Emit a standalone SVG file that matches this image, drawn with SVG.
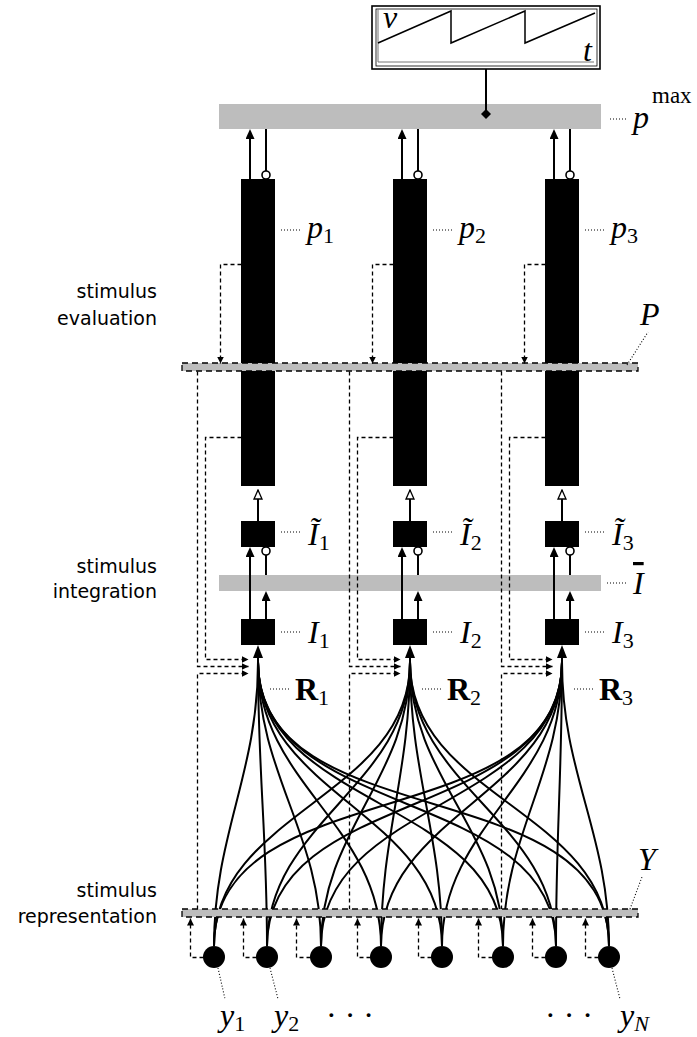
<svg xmlns="http://www.w3.org/2000/svg" width="697" height="1037" viewBox="0 0 697 1037">
<style>
.bar{fill:#bdbdbd}
.dbar{fill:#bdbdbd;stroke:#000;stroke-width:1.3;stroke-dasharray:6 4}
.blk{fill:#000}
.ln{stroke:#000;stroke-width:2;fill:none}
.cv{stroke:#000;stroke-width:2;fill:none}
.dash{stroke:#000;stroke-width:1.3;stroke-dasharray:4 3;fill:none}
.dot{stroke:#000;stroke-width:1.1;stroke-dasharray:1 2;fill:none}
.circ{fill:#fff;stroke:#000;stroke-width:1.6}
.m{font-family:"Liberation Serif",serif;font-size:32px}
.it{font-style:italic}
.bf{font-weight:bold}
.sub{font-size:22px;font-style:normal;font-weight:normal}
.lab{font-family:"DejaVu Sans",sans-serif;font-size:19px;text-anchor:end}
</style>
<defs>
<marker id="ah" viewBox="0 0 10 9" refX="7" refY="4.5" markerWidth="10" markerHeight="9" markerUnits="userSpaceOnUse" orient="auto"><path d="M0,0 L10,4.5 L0,9 z"/></marker>
<marker id="ahb" viewBox="0 0 13 10" refX="10" refY="5" markerWidth="13" markerHeight="10" markerUnits="userSpaceOnUse" orient="auto"><path d="M0,0 L13,5 L0,10 z"/></marker>
<marker id="aho" viewBox="-1 -1 11 10" refX="9" refY="4" markerWidth="11" markerHeight="10" markerUnits="userSpaceOnUse" orient="auto"><path d="M0,0 L9,4 L0,8 z" fill="#fff" stroke="#000" stroke-width="1.3"/></marker>
<marker id="ahd" viewBox="0 0 7 7" refX="7" refY="3.5" markerWidth="7" markerHeight="7" markerUnits="userSpaceOnUse" orient="auto"><path d="M0,0 L7,3.5 L0,7 z"/></marker>
</defs>

<g id="oscillator">
<rect x="372" y="6" width="228" height="63" fill="#fff" stroke="#000" stroke-width="1.6"/>
<rect x="376" y="9" width="221" height="57" fill="none" stroke="#000" stroke-width="0.8"/>
<path d="M378,9 V62 H594" fill="none" stroke="#777" stroke-width="1"/>
<polyline points="378,43 451,11 451,43 525,11 525,43 595,13" fill="none" stroke="#000" stroke-width="1.5"/>
<text x="383" y="28" class="m it" font-size="24">ν</text>
<text x="583" y="61" class="m it">t</text>
</g>

<g id="pmax">
<rect x="219" y="104" width="382" height="25" class="bar"/>
<path d="M610,119 H626" class="dot"/>
<text x="633" y="128" class="m"><tspan class="it">p</tspan><tspan font-size="23" dx="3" dy="-25">max</tspan></text>
</g>

<g id="p1"><rect x="241" y="179" width="34" height="307" class="blk"/><path d="M281,230 H302" class="dot"/><text x="307" y="238" class="m"><tspan class="it">p</tspan><tspan class="sub" dy="5">1</tspan></text></g>
<g id="p2"><rect x="393" y="179" width="34" height="307" class="blk"/><path d="M433,230 H454" class="dot"/><text x="459" y="238" class="m"><tspan class="it">p</tspan><tspan class="sub" dy="5">2</tspan></text></g>
<g id="p3"><rect x="545" y="179" width="34" height="307" class="blk"/><path d="M585,230 H606" class="dot"/><text x="611" y="238" class="m"><tspan class="it">p</tspan><tspan class="sub" dy="5">3</tspan></text></g>

<g id="Pbar">
<rect x="182" y="363" width="456" height="8" class="dbar"/>
<path d="M627,365 L648,332" class="dot"/>
<text x="640" y="325" class="m it">P</text>
</g>

<g id="It1"><rect x="241" y="521" width="34" height="26" class="blk"/><path d="M281,532 H302" class="dot"/><text x="308" y="545" class="m"><tspan class="it">Ĩ</tspan><tspan class="sub" dy="5">1</tspan></text></g>
<g id="It2"><rect x="393" y="521" width="34" height="26" class="blk"/><path d="M433,532 H454" class="dot"/><text x="460" y="545" class="m"><tspan class="it">Ĩ</tspan><tspan class="sub" dy="5">2</tspan></text></g>
<g id="It3"><rect x="545" y="521" width="34" height="26" class="blk"/><path d="M585,532 H606" class="dot"/><text x="612" y="545" class="m"><tspan class="it">Ĩ</tspan><tspan class="sub" dy="5">3</tspan></text></g>

<g id="Ibar">
<rect x="219" y="575" width="382" height="16" class="bar"/>
<path d="M607,583 H627" class="dot"/>
<text x="633" y="594" class="m it" style="text-decoration:overline">I</text>
</g>

<g id="I1"><rect x="241" y="619" width="34" height="26" class="blk"/><path d="M281,632 H302" class="dot"/><text x="308" y="643" class="m"><tspan class="it">I</tspan><tspan class="sub" dy="5">1</tspan></text></g>
<g id="I2"><rect x="393" y="619" width="34" height="26" class="blk"/><path d="M433,632 H454" class="dot"/><text x="460" y="643" class="m"><tspan class="it">I</tspan><tspan class="sub" dy="5">2</tspan></text></g>
<g id="I3"><rect x="545" y="619" width="34" height="26" class="blk"/><path d="M585,632 H606" class="dot"/><text x="612" y="643" class="m"><tspan class="it">I</tspan><tspan class="sub" dy="5">3</tspan></text></g>

<g id="R1"><path d="M270,689 H291" class="dot"/><text x="295" y="700" class="m bf">R<tspan class="sub" dy="5">1</tspan></text></g>
<g id="R2"><path d="M422,689 H443" class="dot"/><text x="447" y="700" class="m bf">R<tspan class="sub" dy="5">2</tspan></text></g>
<g id="R3"><path d="M574,689 H595" class="dot"/><text x="599" y="700" class="m bf">R<tspan class="sub" dy="5">3</tspan></text></g>

<g id="connectors">
<path d="M486,69 V114" class="ln"/>
<polygon points="486,109 491,114 486,119 481,114"/>
<path d="M250,179 V132" class="ln" marker-end="url(#ah)"/>
<path d="M402,179 V132" class="ln" marker-end="url(#ah)"/>
<path d="M554,179 V132" class="ln" marker-end="url(#ah)"/>
<path d="M266,129 V171" class="ln"/><circle cx="266" cy="175" r="4" class="circ"/>
<path d="M418,129 V171" class="ln"/><circle cx="418" cy="175" r="4" class="circ"/>
<path d="M570,129 V171" class="ln"/><circle cx="570" cy="175" r="4" class="circ"/>
<path d="M258,521 V490" class="ln" marker-end="url(#aho)"/>
<path d="M410,521 V490" class="ln" marker-end="url(#aho)"/>
<path d="M562,521 V490" class="ln" marker-end="url(#aho)"/>
<path d="M250,619 V550" class="ln" marker-end="url(#ah)"/>
<path d="M402,619 V550" class="ln" marker-end="url(#ah)"/>
<path d="M554,619 V550" class="ln" marker-end="url(#ah)"/>
<path d="M266,619 V594" class="ln" marker-end="url(#ah)"/>
<path d="M418,619 V594" class="ln" marker-end="url(#ah)"/>
<path d="M570,619 V594" class="ln" marker-end="url(#ah)"/>
<path d="M266,575 V555" class="ln"/><circle cx="266" cy="551" r="4" class="circ"/>
<path d="M418,575 V555" class="ln"/><circle cx="418" cy="551" r="4" class="circ"/>
<path d="M570,575 V555" class="ln"/><circle cx="570" cy="551" r="4" class="circ"/>
<path d="M258,662 V648" class="ln" marker-end="url(#ahb)"/>
<path d="M410,662 V648" class="ln" marker-end="url(#ahb)"/>
<path d="M562,662 V648" class="ln" marker-end="url(#ahb)"/>

<g transform="translate(0.5,0.5)">
<path d="M241,264 H220 V363" class="dash" marker-end="url(#ahd)"/>
<path d="M393,264 H372 V363" class="dash" marker-end="url(#ahd)"/>
<path d="M545,264 H524 V363" class="dash" marker-end="url(#ahd)"/>
<path d="M197,371 V666 H248" class="dash" marker-end="url(#ahd)"/>
<path d="M349,371 V666 H400" class="dash" marker-end="url(#ahd)"/>
<path d="M501,371 V666 H552" class="dash" marker-end="url(#ahd)"/>
<path d="M241,437 H205 V659 H248" class="dash" marker-end="url(#ahd)"/>
<path d="M393,437 H357 V659 H400" class="dash" marker-end="url(#ahd)"/>
<path d="M545,437 H509 V659 H552" class="dash" marker-end="url(#ahd)"/>
<path d="M197,909 V673 H248" class="dash" marker-end="url(#ahd)"/>
<path d="M349,909 V673 H400" class="dash" marker-end="url(#ahd)"/>
<path d="M501,909 V673 H552" class="dash" marker-end="url(#ahd)"/>
<path d="M203,957 H190 V918" class="dash" marker-end="url(#ahd)"/>
<path d="M256,957 H243 V918" class="dash" marker-end="url(#ahd)"/>
<path d="M310,957 H296 V918" class="dash" marker-end="url(#ahd)"/>
<path d="M370,957 H357 V918" class="dash" marker-end="url(#ahd)"/>
<path d="M431,957 H418 V918" class="dash" marker-end="url(#ahd)"/>
<path d="M492,957 H478 V918" class="dash" marker-end="url(#ahd)"/>
<path d="M545,957 H532 V918" class="dash" marker-end="url(#ahd)"/>
<path d="M598,957 H585 V918" class="dash" marker-end="url(#ahd)"/>
</g>

<path class="cv" d="M214 946 C214 833.5 258 774.5 258 662"/>
<path class="cv" d="M267 946 C267 834.8 258 773.2 258 662"/>
<path class="cv" d="M321 946 C321 832.1 258 775.9 258 662"/>
<path class="cv" d="M381 946 C381 824.8 258 783.2 258 662"/>
<path class="cv" d="M442 946 C442 813.5 258 794.5 258 662"/>
<path class="cv" d="M503 946 C503 799.2 258 808.8 258 662"/>
<path class="cv" d="M556 946 C556 784.8 258 823.2 258 662"/>
<path class="cv" d="M609 946 C609 769.2 258 838.8 258 662"/>
<path class="cv" d="M214 946 C214 810.9 410 797.1 410 662"/>
<path class="cv" d="M267 946 C267 821.5 410 786.5 410 662"/>
<path class="cv" d="M321 946 C321 829.5 410 778.5 410 662"/>
<path class="cv" d="M381 946 C381 834.2 410 773.8 410 662"/>
<path class="cv" d="M442 946 C442 834.1 410 773.9 410 662"/>
<path class="cv" d="M503 946 C503 829 410 779 410 662"/>
<path class="cv" d="M556 946 C556 821 410 787 410 662"/>
<path class="cv" d="M609 946 C609 810.2 410 797.8 410 662"/>
<path class="cv" d="M214 946 C214 770.1 562 837.9 562 662"/>
<path class="cv" d="M267 946 C267 785.7 562 822.3 562 662"/>
<path class="cv" d="M321 946 C321 800.2 562 807.8 562 662"/>
<path class="cv" d="M381 946 C381 814.1 562 793.9 562 662"/>
<path class="cv" d="M442 946 C442 825.3 562 782.7 562 662"/>
<path class="cv" d="M503 946 C503 832.4 562 775.6 562 662"/>
<path class="cv" d="M556 946 C556 834.8 562 773.2 562 662"/>
<path class="cv" d="M609 946 C609 833.3 562 774.7 562 662"/>
</g>

<g id="Ybar">
<rect x="182" y="909" width="456" height="8" class="dbar"/>
<path d="M630,909 L642,877" class="dot"/>
<text x="638" y="870" class="m it">Y</text>
</g>

<g id="y-nodes">
<circle cx="214" cy="957" r="11"/>
<circle cx="267" cy="957" r="11"/>
<circle cx="321" cy="957" r="11"/>
<circle cx="381" cy="957" r="11"/>
<circle cx="442" cy="957" r="11"/>
<circle cx="503" cy="957" r="11"/>
<circle cx="556" cy="957" r="11"/>
<circle cx="609" cy="957" r="11"/>
</g>

<g id="y-labels">
<path d="M218,968 L225,999" class="dot"/>
<path d="M270,968 L278,999" class="dot"/>
<path d="M612,968 L620,999" class="dot"/>
<text x="220" y="1026" class="m"><tspan class="it">y</tspan><tspan class="sub" dy="5">1</tspan></text>
<text x="274" y="1026" class="m"><tspan class="it">y</tspan><tspan class="sub" dy="5">2</tspan></text>
<text x="326" y="1026" class="m">· · ·</text>
<text x="545" y="1026" class="m">· · ·</text>
<text x="620" y="1026" class="m"><tspan class="it">y</tspan><tspan class="sub" dy="5" style="font-style:italic">N</tspan></text>
</g>

<g id="stage-labels">
<text class="lab" x="157" y="298">stimulus</text>
<text class="lab" x="157" y="325">evaluation</text>
<text class="lab" x="157" y="573">stimulus</text>
<text class="lab" x="157" y="598">integration</text>
<text class="lab" x="157" y="897">stimulus</text>
<text class="lab" x="157" y="923">representation</text>
</g>
</svg>
